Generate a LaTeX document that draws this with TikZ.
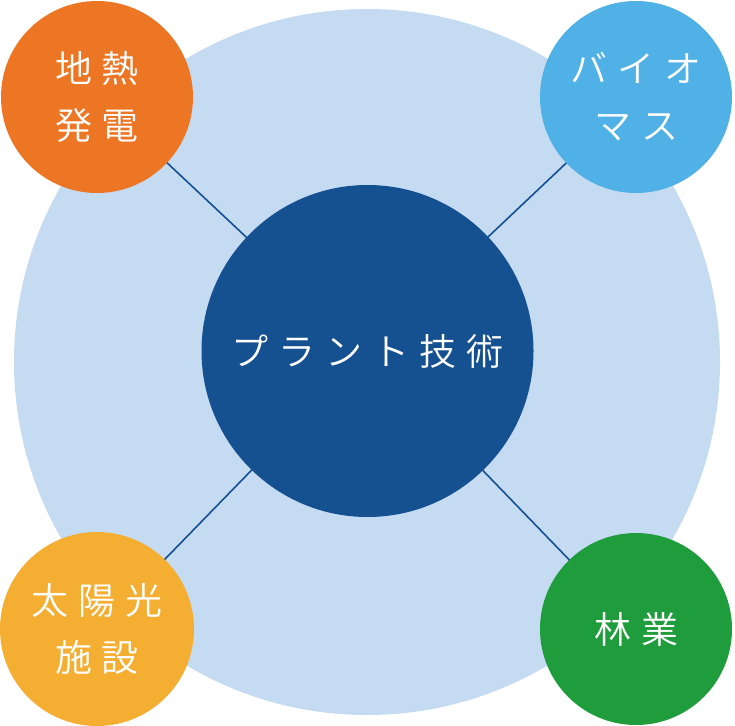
\documentclass[tikz,border=0pt]{standalone}
\usepackage{fontspec}
\newfontfamily\cjk{Noto Sans CJK JP DemiLight}
\definecolor{bigbg}{HTML}{C5DBF2}
\definecolor{core}{HTML}{155091}
\definecolor{geo}{HTML}{ED7625}
\definecolor{bio}{HTML}{4FB1E6}
\definecolor{sun}{HTML}{F4AF33}
\definecolor{forest}{HTML}{1F9C3B}
\newcommand{\tk}{\hspace{0.27em}}
\begin{document}
\begin{tikzpicture}[x=1pt,y=-1pt,
  disc/.style={circle,inner sep=0pt,minimum size=#1,text=white,align=center,
    font=\cjk\fontsize{37}{57}\selectfont},
  link/.style={draw=core,line width=1.6pt}]
\useasboundingbox (0,0) rectangle (735,725);
\fill[bigbg] (367,362) circle[radius=353];
\coordinate (cc) at (367.5,351);
\coordinate (gc) at (97,97);
\coordinate (bc) at (636,97);
\coordinate (sc) at (97,629);
\coordinate (fc) at (636,629);
\draw[link] (gc) -- (cc);
\draw[link] (bc) -- (cc);
\draw[link] (sc) -- (cc);
\draw[link] (fc) -- (cc);
\node[disc=332pt,fill=core] (core) at (cc) {プ\tk ラ\tk ン\tk ト\tk 技\tk 術};
\node[disc=192pt,fill=geo] (geo) at (gc) {地\tk 熱\\発\tk 電};
\node[disc=192pt,fill=bio] (bio) at (bc) {バ\tk イ\tk オ\\マ\tk ス};
\node[disc=194pt,fill=sun] (sun) at (sc) {太\tk 陽\tk 光\\施\tk 設};
\node[disc=192pt,fill=forest] (forest) at (fc) {林\tk 業};
\end{tikzpicture}
\end{document}
